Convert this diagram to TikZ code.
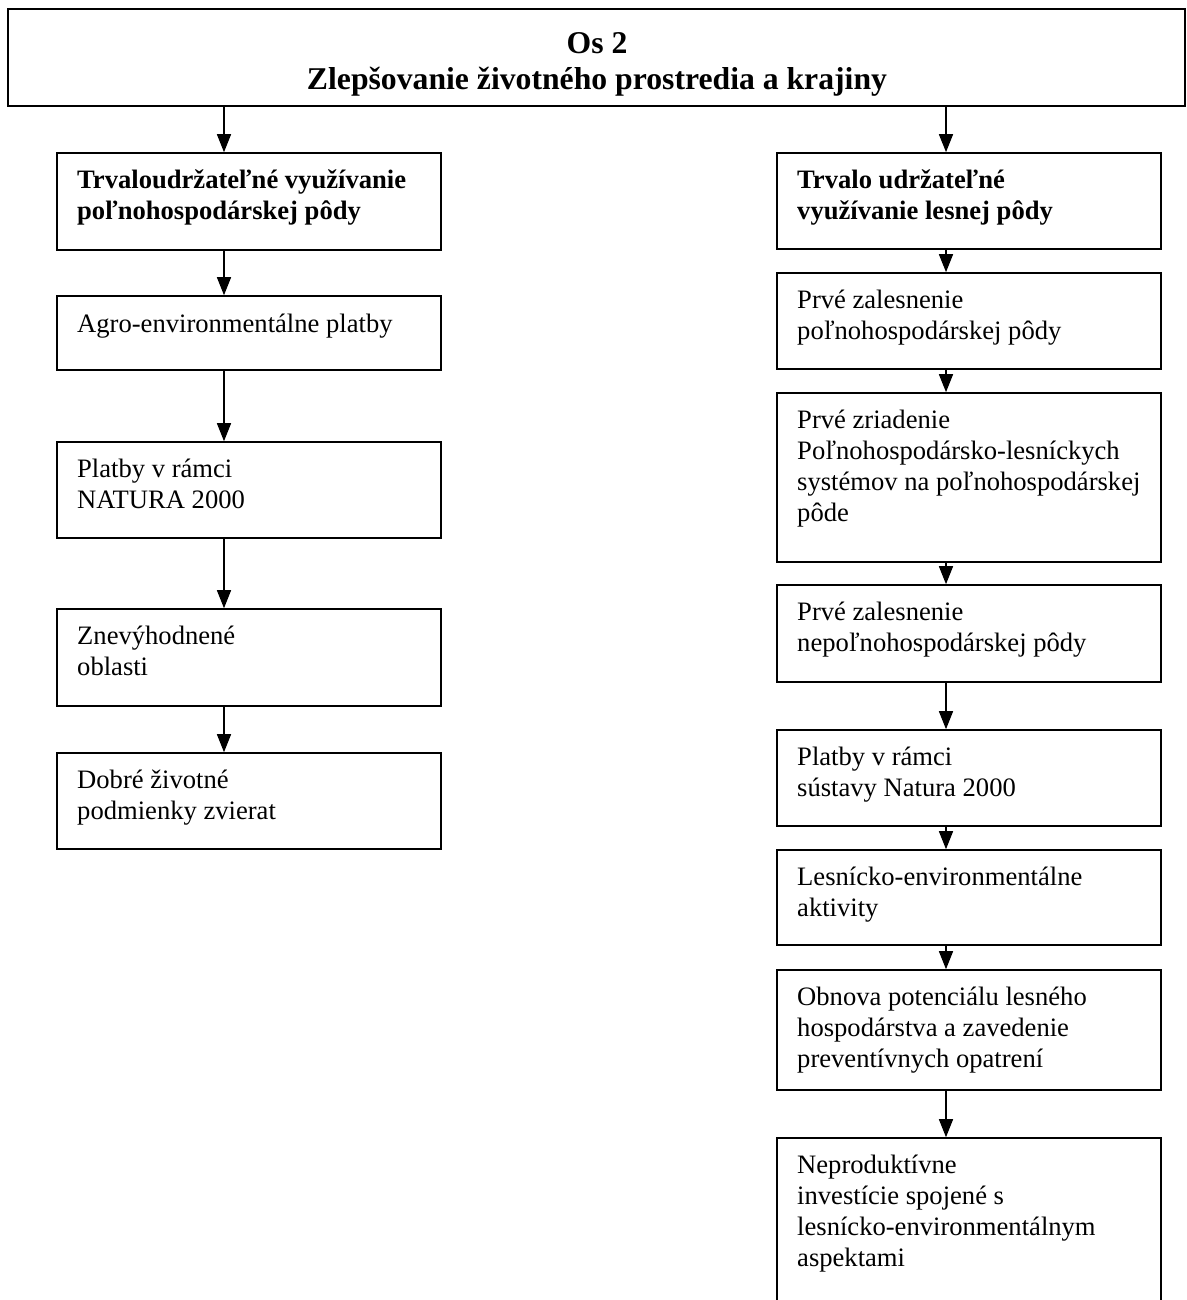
\documentclass[tikz,border=0pt]{standalone}
\usepackage{fontspec}
\setmainfont{Liberation Serif}
\usetikzlibrary{arrows.meta,fit}
\begin{document}
\begin{tikzpicture}[x=1pt,y=-1pt,
  boxs/.style={draw=black, line width=1.6pt, inner sep=0pt},
  txt/.style={anchor=north west, inner sep=0pt, align=left, font=\fontsize{26.6}{31}\selectfont},
  btxt/.style={txt, font=\fontsize{26.6}{31}\selectfont\bfseries},
  ttl/.style={inner sep=0pt, align=center, font=\fontsize{31.7}{36}\selectfont\bfseries},
  arr/.style={line width=1.4pt, -{Triangle[length=18pt,width=14pt]}}
]
\useasboundingbox (0,0) rectangle (1186,1300);
\clip (0,0) rectangle (1186,1300);
\coordinate (colL) at (224,0);
\coordinate (colR) at (946,0);
% top
\node[boxs, fit={(8,9)(1185,106)}] (top) {};
\node[ttl] (topt) at (597,64) {Os 2\\Zlepšovanie životného prostredia a krajiny};
% left column
\node[boxs, fit={(57,153)(441,250)}] (L1) {};
\node[btxt] (L1t) at (77,167) {\strut Trvaloudržateľné využívanie\\poľnohospodárskej pôdy};
\node[boxs, fit={(57,296)(441,370)}] (L2) {};
\node[txt] (L2t) at (77,311) {\strut Agro-environmentálne platby};
\node[boxs, fit={(57,442)(441,538)}] (L3) {};
\node[txt] (L3t) at (77,456) {\strut Platby v rámci\\NATURA 2000};
\node[boxs, fit={(57,609)(441,706)}] (L4) {};
\node[txt] (L4t) at (77,623) {\strut Znevýhodnené\\oblasti};
\node[boxs, fit={(57,753)(441,849)}] (L5) {};
\node[txt] (L5t) at (77,767) {\strut Dobré životné\\podmienky zvierat};
% right column
\node[boxs, fit={(777,153)(1161,249)}] (R1) {};
\node[btxt] (R1t) at (797,167) {\strut Trvalo udržateľné\\využívanie lesnej pôdy};
\node[boxs, fit={(777,273)(1161,369)}] (R2) {};
\node[txt] (R2t) at (797,287) {\strut Prvé zalesnenie\\poľnohospodárskej pôdy};
\node[boxs, fit={(777,393)(1161,562)}] (R3) {};
\node[txt] (R3t) at (797,407) {\strut Prvé zriadenie\\Poľnohospodársko-lesníckych\\systémov na poľnohospodárskej\\pôde};
\node[boxs, fit={(777,585)(1161,682)}] (R4) {};
\node[txt] (R4t) at (797,599) {\strut Prvé zalesnenie\\nepoľnohospodárskej pôdy};
\node[boxs, fit={(777,730)(1161,826)}] (R5) {};
\node[txt] (R5t) at (797,744) {\strut Platby v rámci\\sústavy Natura 2000};
\node[boxs, fit={(777,850)(1161,945)}] (R6) {};
\node[txt] (R6t) at (797,864) {\strut Lesnícko-environmentálne\\aktivity};
\node[boxs, fit={(777,970)(1161,1090)}] (R7) {};
\node[txt] (R7t) at (797,984) {\strut Obnova potenciálu lesného\\hospodárstva a zavedenie\\preventívnych opatrení};
\node[boxs, fit={(777,1138)(1161,1330)}] (R8) {};
\node[txt] (R8t) at (797,1152) {\strut Neproduktívne\\investície spojené s\\lesnícko-environmentálnym\\aspektami};
% arrows
\draw[arr] (top.south -| colL) -- (L1.north -| colL);
\draw[arr] (L1.south -| colL) -- (L2.north -| colL);
\draw[arr] (L2.south -| colL) -- (L3.north -| colL);
\draw[arr] (L3.south -| colL) -- (L4.north -| colL);
\draw[arr] (L4.south -| colL) -- (L5.north -| colL);
\draw[arr] (top.south -| colR) -- (R1.north -| colR);
\draw[arr] (R1.south -| colR) -- (R2.north -| colR);
\draw[arr] (R2.south -| colR) -- (R3.north -| colR);
\draw[arr] (R3.south -| colR) -- (R4.north -| colR);
\draw[arr] (R4.south -| colR) -- (R5.north -| colR);
\draw[arr] (R5.south -| colR) -- (R6.north -| colR);
\draw[arr] (R6.south -| colR) -- (R7.north -| colR);
\draw[arr] (R7.south -| colR) -- (R8.north -| colR);
\end{tikzpicture}
\end{document}
